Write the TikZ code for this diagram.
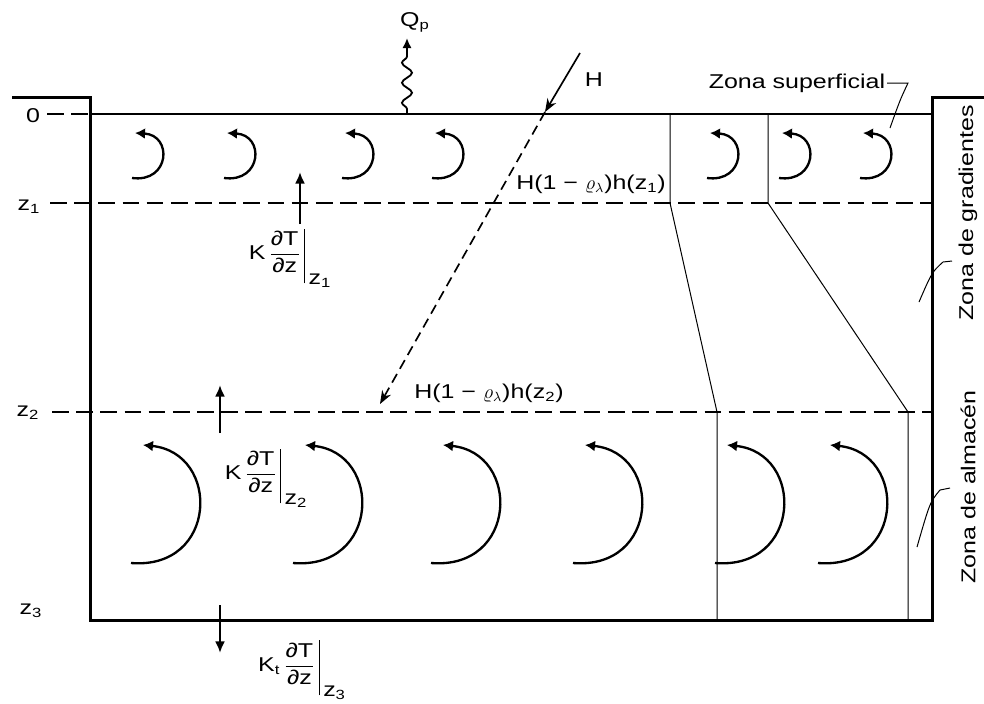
\documentclass[tikz,border=0pt]{standalone}
\usepackage{amsmath}
\usepackage{fontspec}
\setmainfont{Liberation Sans}[FakeStretch=1.25]
\usetikzlibrary{arrows.meta,decorations.pathmorphing}
\tikzstyle{wall} = [line width=1.8pt]
\tikzstyle{level} = [line width=1.1pt,dash pattern=on 10pt off 4.5pt]
\tikzstyle{prof} = [line width=0.6pt]
\tikzstyle{eddy} = [line width=1.4pt,-{Latex[length=6pt,width=6.5pt]}]
\tikzstyle{flux} = [line width=1.3pt,-{Latex[length=7pt,width=6pt]}]
\tikzstyle{lbl} = [font=\fontsize{12}{14}\selectfont,inner sep=1pt]
\newcommand\grad[2]{$\text{#1}\,\dfrac{\text{∂T}}{\text{∂z}}\,\rule[-2.3ex]{0.8pt}{5.2ex}\,\raisebox{-2.4ex}{z\textsubscript{#2}}$}

\begin{document}
\begin{tikzpicture}[x=0.6pt,y=-0.6pt]
      \useasboundingbox (0,0) rectangle (984,703);
      % recipiente
      \coordinate (wl) at (90,114); \coordinate (wr) at (932,114);
      \draw[wall](12,97)--(90,97)--(90,620)--(932,620)--(932,97)--(984,97);
      \draw[line width=1.1pt](wl)--(wr);
      % niveles
      \node[lbl] (n0) at (33,116) {0};
      \node[lbl] (n1) at (29,207) {z\textsubscript{1}};
      \node[lbl] (n2) at (28,413) {z\textsubscript{2}};
      \node[lbl] (n3) at (31,611) {z\textsubscript{3}};
      \coordinate (z1r) at (932,203); \coordinate (z2r) at (932,412);
      \draw[level](47,114)--(wl);
      \draw[level](50,203)--(z1r);
      \draw[level](52,412)--(z2r);
      % perfiles
      \draw[prof](670,114)--(670,203)--(717,412)--(717,620);
      \draw[prof](768,114)--(768,203)--(908,412)--(908,620);
      % remolinos
      \foreach \x in {135,227,345,435,710,782,863}
        \draw[eddy](\x-3,178)..controls(\x+35,183)and(\x+38,135)..(\x,133);
      \foreach \x in {143,305,443,585,727,830}
        \draw[eddy](\x-12,563)..controls(\x+75,570)and(\x+78,453)..(\x,445);
      % flujos de calor
      \coordinate (f1a) at (300,224); \coordinate (f1b) at (300,172);
      \coordinate (f2a) at (220,433); \coordinate (f2b) at (220,385);
      \coordinate (f3a) at (220,605); \coordinate (f3b) at (220,653);
      \draw[flux](f1a)--(f1b);
      \draw[flux](f2a)--(f2b);
      \draw[flux](f3a)--(f3b);
      \node[lbl] (k1) at (290,258) {\grad{K}{1}};
      \node[lbl] (k2) at (266,478) {\grad{K}{2}};
      \node[lbl] (k3) at (302,670) {\grad{K\textsubscript{t}}{3}};
      % radiacion
      \coordinate (h0) at (580,53); \coordinate (h1) at (545,112); \coordinate (h2) at (380,404);
      \draw[line width=1pt,-{Stealth[length=8pt,width=6pt]}](h0)--(h1);
      \draw[line width=1pt,dash pattern=on 6pt off 3.5pt,-{Stealth[length=8pt,width=6pt]}](h1)--(h2);
      \node[lbl] (hl) at (594,80) {H};
      \node[lbl] (hz1) at (591,184) {H(1 − $\varrho_\lambda$)h(z\textsubscript{1})};
      \node[lbl] (hz2) at (489,393) {H(1 − $\varrho_\lambda$)h(z\textsubscript{2})};
      % perdidas
      \coordinate (q0) at (407,114); \coordinate (q1) at (407,38);
      \draw[line width=1.1pt,-{Latex[length=6pt,width=5.5pt]},decorate,
        decoration={snake,amplitude=3pt,segment length=12pt,pre length=3pt,post length=7pt}](q0)--(q1);
      \node[lbl] (ql) at (415,22) {Q\textsubscript{p}};
      % zonas
      \node[lbl] (zs) at (797,83) {Zona superficial};
      \draw[prof](zs.east)--(908,83)..controls(900,100)..(890,128);
      \node[lbl,rotate=90] (zg) at (968,213) {Zona de gradientes};
      \draw[prof](952,261)--(943,262)..controls(932,272)..(919,302);
      \node[lbl,rotate=90] (za) at (968,487) {Zona de almacén};
      \draw[prof](950,488)--(940,490)..controls(930,502)..(917,547);
    \end{tikzpicture}
\end{document}
